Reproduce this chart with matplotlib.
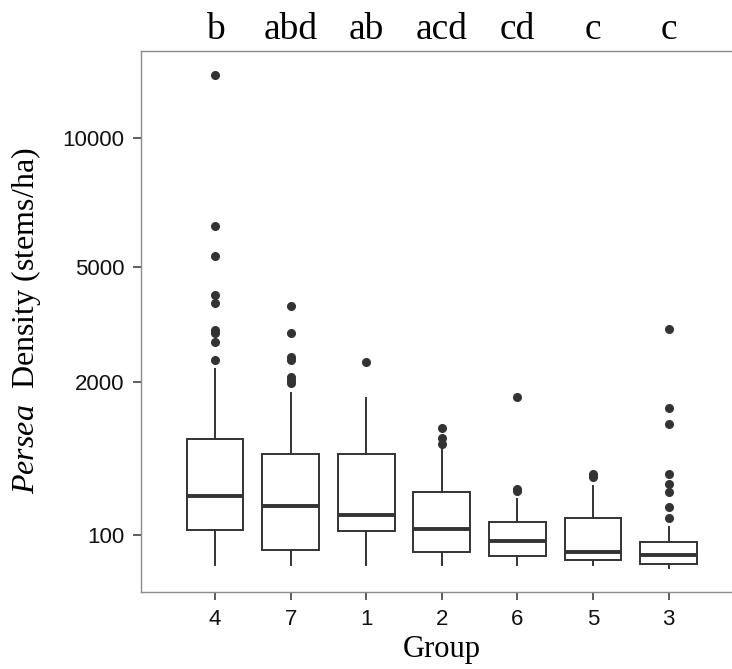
import numpy as np
import matplotlib
matplotlib.use("Agg")
import matplotlib.pyplot as plt
from matplotlib.transforms import blended_transform_factory

plt.rcParams['mathtext.fontset'] = 'custom'
plt.rcParams['mathtext.rm'] = 'Liberation Serif'
plt.rcParams['mathtext.it'] = 'Liberation Serif:italic'

# groups in plotting order with their significance letters
groups = ['4', '7', '1', '2', '6', '5', '3']
letters = ['b', 'abd', 'ab', 'acd', 'cd', 'c', 'c']

# box statistics (stems/ha)
whislo = [10, 10, 10, 10, 10, 10, 6.7]
q1 = [124, 44, 119, 38, 27.5, 18.8, 11.7]
med = [355, 277, 212, 131, 73.5, 38.6, 29.2]
q3 = [1006, 802, 802, 388, 168, 194, 70]
whishi = [2265, 1777, 1682, 898, 328, 446, 141]
outliers = [
    [13078, 6428, 5383, 4154, 3932, 3194, 3109, 2886, 2471],
    [3839, 3125, 2545, 2471, 2108, 2040, 1973],
    [2419],
    [1170, 1020, 935],
    [1701, 418, 400],
    [569, 533],
    [3211, 1501, 1243, 569, 466, 388, 270, 194],
]

stats = []
for i, g in enumerate(groups):
    stats.append({'label': g, 'whislo': whislo[i], 'q1': q1[i], 'med': med[i],
                  'q3': q3[i], 'whishi': whishi[i], 'fliers': outliers[i]})


def fwd(v):
    return np.sign(v) * np.sqrt(np.abs(v))


def inv(v):
    return np.sign(v) * v ** 2


fig = plt.figure(figsize=(7.32, 6.69), dpi=100)
ax = fig.add_axes([0.1926, 0.1151, 0.8220, 0.8094])
ax.set_yscale('function', functions=(fwd, inv))

dark = '#333333'
pos = np.arange(1, len(groups) + 1)
ax.bxp(stats, positions=pos, widths=0.75, showcaps=False, patch_artist=True,
       boxprops=dict(facecolor='white', edgecolor=dark, linewidth=1.4),
       medianprops=dict(color=dark, linewidth=2.8, solid_capstyle='butt'),
       whiskerprops=dict(color=dark, linewidth=1.4),
       flierprops=dict(marker='o', markerfacecolor=dark, markeredgecolor=dark,
                       markersize=5.5, linestyle='none'))

ax.set_xlim(0.02, 7.98)
ax.set_ylim(-8.6, 14380)
ax.set_yticks([100, 2000, 5000, 10000])
ax.set_yticklabels(['100', '2000', '5000', '10000'])
ax.set_xticks(pos)
ax.set_xticklabels(groups)

for side in ['left', 'bottom', 'top', 'right']:
    ax.spines[side].set_color('#8c8c8c')
    ax.spines[side].set_linewidth(1.0)

ax.tick_params(axis='both', length=6, width=1.1, color='#333333', pad=6,
               labelsize=16, labelcolor='#111111')
for lab in ax.get_xticklabels() + ax.get_yticklabels():
    lab.set_family('Liberation Sans')

ax.set_xlabel('Group', family='Liberation Serif', fontsize=22, labelpad=4)
ax.set_ylabel(r'$\mathit{Persea}$  Density (stems/ha)', family='Liberation Serif',
              fontsize=23, labelpad=14)

# significance letters above each group
trans = blended_transform_factory(ax.transData, fig.transFigure)
for x, lt in zip(pos, letters):
    ax.text(x, 0.9410, lt, transform=trans, ha='center', va='baseline',
            family='Liberation Serif', fontsize=27)

fig.savefig('out.png', dpi=100)
